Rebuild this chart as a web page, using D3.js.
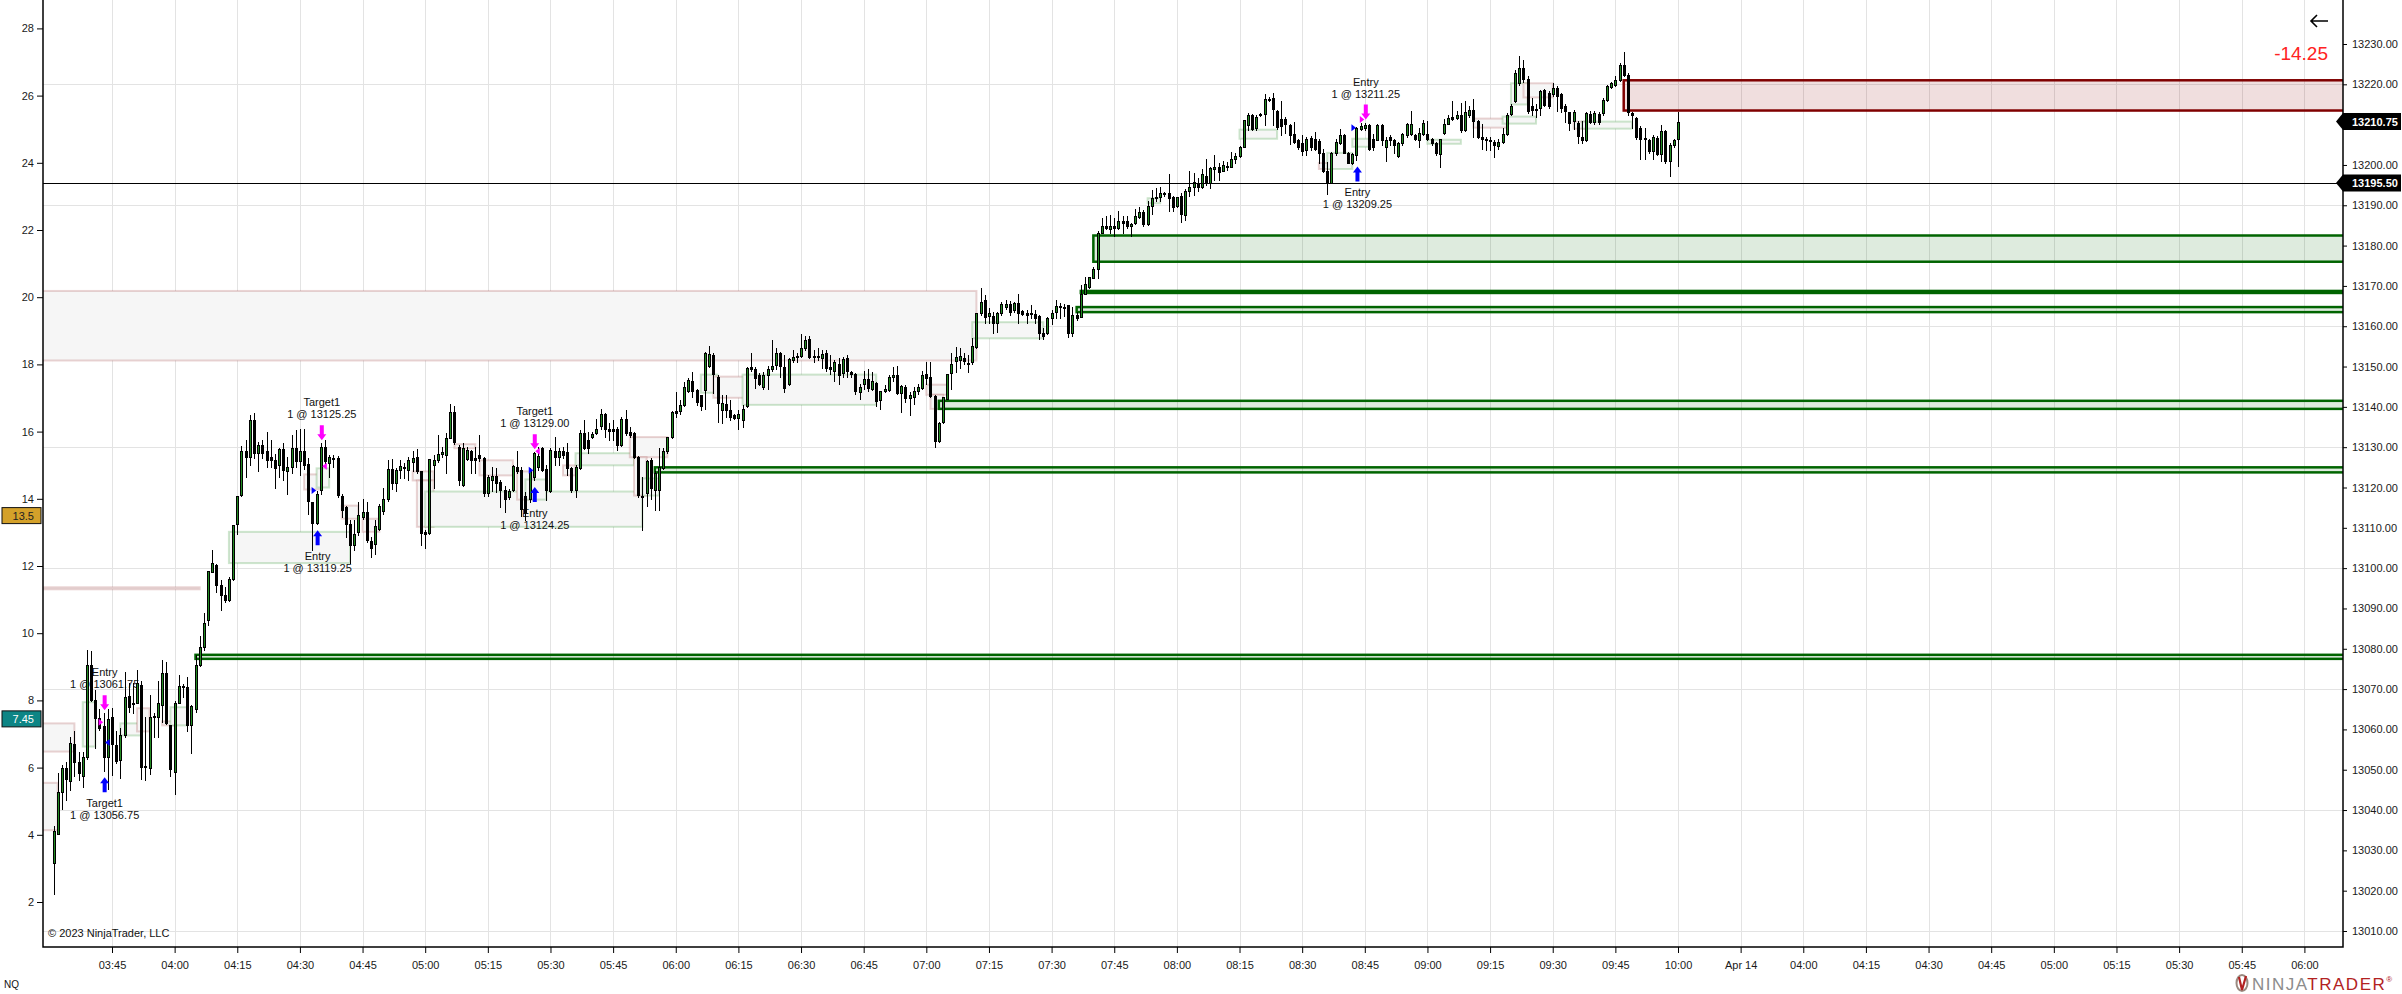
<!DOCTYPE html>
<html lang="en">
<head>
<meta charset="UTF-8">
<title>NQ 1 Minute</title>
<script src="https://cdn.jsdelivr.net/npm/d3@7"></script>
<style>
    body { margin: 0; background: #fff; overflow: hidden; }
    svg text { font-family: Arial, "Liberation Sans", sans-serif; }
</style>
</head>
<body>
<svg id="chart"></svg>
<script>
// 1 minute bars, first bar 03:31, last bar 10:00
const open = [
13026.75,13034,13044.5,13050.5,13047.25,13056.5,13052,13048.5,13053.25,13076,
13067.25,13062.75,13060.75,13053,13063,13056.25,13052.25,13058.5,13068.25,13066.5,
13066.5,13071,13051,13050.25,13063.25,13063,13066,13074,13061,13049.5,
13066.5,13070.75,13070.5,13061,13065,13076,13080.5,13087,13099,13100.75,
13095.75,13093.25,13092,13097.25,13111,13118,13129,13127.5,13136.75,13128.5,
13130.5,13129,13127.5,13126.75,13125.5,13129.5,13124,13125,13129.75,13126.5,
13129,13125.75,13116.5,13111.25,13119.25,13130,13126,13127.25,13127.25,13118,
13115.25,13111,13105.75,13109,13112.75,13114,13106.75,13106,13109.75,13114.25,
13117,13124.5,13121,13124.25,13125,13124.25,13126.25,13127.5,13124,13109,
13108.75,13125.5,13126.75,13128.25,13128,13132.25,13138.75,13130,13120.5,13127,
13129,13127.25,13128,13127.25,13118.5,13121.75,13122.75,13121.25,13119.5,13117.75,
13119.25,13125,13124.25,13118,13117,13122.5,13125,13129.75,13124.5,13119,
13129,13127.5,13129,13128.75,13124.75,13119.25,13124.75,13133.5,13131.75,13132.5,
13133.5,13135.25,13138.25,13134.5,13134.5,13134.5,13130.5,13137,13133.75,13133.5,
13127.5,13118,13118.5,13126.75,13119.25,13119.25,13124.75,13129,13132.5,13139,
13139,13140.5,13144,13146.5,13144.25,13143,13144,13150,13152.75,13147.5,
13139.25,13140.75,13139.25,13138,13137.25,13136.75,13140.25,13150,13149.5,13148,
13145,13148,13149.5,13150.25,13153.25,13150,13145.5,13151.5,13152.25,13152.5,
13154.5,13156.75,13152.5,13152.5,13152,13153.25,13150,13149,13150.75,13148.25,
13152,13148.75,13148.25,13143.75,13145.75,13147,13144.5,13146,13141.75,13144,
13144.25,13147.5,13148,13143.5,13145,13142.25,13142.5,13144,13144.75,13148.25,
13147.5,13142.75,13131.5,13136.25,13142,13148.5,13151.25,13151.5,13152,13151,
13151,13154.75,13163.25,13166.5,13162.5,13162.5,13160.75,13163.25,13164.75,13165.5,
13164,13165.75,13163.75,13163.25,13163.25,13163,13162.5,13158.25,13158.25,13162,
13163.5,13164.75,13164.75,13165.25,13158.25,13162.75,13162.25,13168,13169.75,13172,
13174,13183,13184.75,13184,13184.75,13184.25,13186,13186,13184.75,13185.5,
13187,13188.25,13185.25,13189.75,13192,13192,13193,13193,13192,13189.75,
13192.25,13187.5,13193.5,13194.5,13195.5,13194.5,13197.25,13195.5,13199,13199.5,
13198.5,13199.5,13199.5,13201.5,13202.25,13204.5,13210,13212.5,13209.25,13212.75,
13212.5,13216.25,13216.5,13213.5,13211.5,13211.5,13210,13207.75,13206.25,13205.5,
13203.75,13206.75,13206.5,13206,13203,13198.5,13195.5,13203,13205.5,13207.5,
13203,13200.5,13202.5,13209,13209.25,13210,13206.5,13206.25,13210,13204.5,
13207,13206.25,13202.25,13205.5,13207.5,13207.75,13207.5,13206.25,13207.75,13207.75,
13206.5,13205.5,13202.75,13208,13210.25,13212,13211.75,13212.5,13208.75,13212.5,
13213.75,13211,13207,13206.5,13206.25,13205.75,13204.75,13205.75,13207.75,13212.5,
13215.75,13220.25,13224,13221.25,13214.5,13214,13214,13218.5,13217.75,13217.5,
13219,13217.5,13214.5,13213.25,13211,13210.5,13207,13206.25,13212.75,13210.75,
13212.75,13212.75,13216,13219.25,13219.75,13221,13224.75,13222.25,13213,13211.75,
13209.25,13206.75,13206.25,13203.5,13206.75,13202.75,13208.5,13201,13205,13206.5
];
const high = [
13036,13049.25,13051.25,13052,13058,13059.5,13054.5,13054.5,13079.75,13079.5,
13069.75,13065,13064,13065,13065.25,13059.5,13060.25,13074.25,13071.5,13071.5,
13074.75,13072,13063,13068.5,13064,13072,13077.25,13076.75,13061,13067,
13073.5,13071.25,13073,13066,13078.5,13083.25,13088.75,13099.25,13104.5,13101,
13097,13095.25,13097.75,13110.75,13118,13130.25,13131.75,13138,13138.5,13131.25,
13131.75,13133.75,13131.75,13128.25,13129.75,13131,13127.5,13133,13134.25,13134.5,
13134.5,13127.25,13116.5,13119.25,13131,13131.75,13128,13128,13127.75,13118.5,
13115.5,13112,13112,13116.5,13117.25,13116.5,13107.75,13112,13116,13120,
13126.75,13127,13124.75,13126.75,13126,13127.5,13129,13129.5,13124,13109.5,
13127,13128,13133,13130,13133.5,13140.75,13140.25,13130.5,13131,13130,
13129.25,13130,13133,13127.5,13123,13125,13124.75,13121.75,13120.25,13119.75,
13125.5,13129,13125,13119,13124.75,13128.75,13130,13130,13125.5,13129.75,
13132.5,13129.75,13130,13131,13125,13125.5,13134.25,13136.75,13133.75,13133.75,
13137,13139.5,13138.5,13136,13136.75,13135,13137.5,13139.25,13135,13133.75,
13127.75,13122.5,13126.75,13127.25,13124,13129.75,13129.75,13132.5,13139,13143.75,
13141.75,13146.25,13147.25,13148.75,13144.5,13143,13153.5,13155,13153.25,13148,
13143,13143,13141.75,13138.25,13139.25,13140.5,13150,13153.25,13150,13148.5,
13148.75,13150.25,13156.5,13154.5,13153.5,13152.75,13152,13154,13153.25,13158,
13157.5,13157.5,13154,13154.5,13154,13154,13152.75,13151.5,13152,13152.25,
13152.75,13149,13148.5,13145.75,13149,13149.5,13148.75,13146.25,13144,13145.5,
13148,13150,13150.25,13145.5,13145.5,13143.75,13145,13145.75,13149,13151.25,
13151.25,13143,13136.25,13142.5,13148.25,13153.25,13154.75,13154.5,13153.25,13152.75,
13157,13163.25,13169.5,13167.75,13164.5,13163.5,13163.5,13166,13166.5,13166.25,
13166,13168,13164,13164,13165.25,13164,13162.75,13159.5,13162.25,13164,
13166.5,13165.75,13165.5,13165.25,13164.75,13163.5,13170.25,13172.25,13172.25,13174.75,
13183.5,13186.75,13187.25,13187.5,13186.75,13188.5,13187.25,13187.25,13185.5,13189,
13189.5,13188.75,13191,13193.75,13194.25,13194.5,13193.25,13197.75,13192.25,13192,
13193,13194,13198.5,13198,13196.75,13199,13201.5,13199.5,13202.5,13200.5,
13201,13200.75,13203.25,13203,13204.75,13211.25,13213,13212.75,13212.5,13213,
13217.5,13216.75,13217.75,13213.75,13215.75,13212,13210.25,13210.75,13206.5,13207.5,
13207,13207.25,13208.25,13206.5,13204,13200.75,13203.25,13206.5,13209,13207.75,
13203.25,13203,13209.5,13210.5,13210.5,13210.25,13207.75,13210.25,13210.25,13207,
13207.5,13206.5,13205.75,13208,13210.5,13213.5,13207.75,13209.25,13211.25,13211,
13206.75,13205.75,13206.5,13211.5,13212.5,13215.75,13213.5,13215.25,13215.75,13214.5,
13216.25,13211.25,13210.25,13207,13207,13206.25,13206.5,13209.25,13213,13215,
13223.5,13227,13226,13222,13216.5,13215,13218.5,13218.75,13218.25,13220.25,
13219.5,13217.75,13215,13213.25,13213.75,13211,13211,13213.25,13213.5,13213.5,
13213.25,13216.5,13219.75,13220.5,13222,13225.25,13228,13222.75,13213.25,13212,
13209.75,13209.25,13206.5,13207.5,13207.25,13210,13208.75,13205.5,13206.5,13213.25
];
const low = [
13019.25,13034,13040.25,13042.5,13045,13048.5,13047.5,13045.75,13052.75,13067,
13055.5,13059.75,13049.75,13045.25,13048.75,13051.75,13048,13058,13064.25,13064,
13066.5,13047.75,13047.5,13049,13058,13058,13061.75,13061.25,13048.5,13044,
13066.5,13068,13059.5,13054.25,13064.25,13075.75,13079.75,13086,13099,13094,
13089.5,13091.5,13091.75,13097,13108.5,13118,13122.5,13125.5,13127.25,13124,
13127.25,13125,13125,13120,13122.5,13121.75,13118.5,13123.5,13125,13123,
13124.5,13113.5,13104.5,13111,13118.5,13126,13122.5,13125,13117.75,13112.75,
13107.75,13101.25,13104.5,13108.25,13112.25,13106.5,13102.75,13103.5,13109.5,13113.5,
13116.75,13119.75,13119.25,13122.25,13122.25,13121.75,13124,13123.5,13105.75,13105,
13108.5,13120,13126.25,13127.5,13123.5,13132.25,13130.75,13120.5,13120.25,13126.75,
13123.5,13123.5,13126.5,13118,13118,13119.25,13119,13115.25,13114,13117.25,
13119.25,13123.5,13113,13112,13116.5,13121.75,13124.25,13124,13117,13119,
13125.5,13125.5,13127.25,13123,13119,13117.75,13124.5,13129.5,13128.5,13132.25,
13133.25,13134.5,13132.5,13131.75,13131.75,13129.25,13130.25,13133,13132.5,13127.25,
13117.75,13109.5,13115.5,13117.25,13114.5,13114.5,13124.5,13128.5,13132.25,13137.5,
13138.25,13140.25,13143.75,13142.5,13140.5,13139.25,13139.5,13150,13143.5,13136.25,
13136,13137.5,13136.75,13137,13134.5,13135,13140,13149,13144.75,13145.5,
13144.5,13144.5,13149,13149.5,13147.5,13143.75,13145.5,13151.25,13151.25,13152.25,
13154,13152,13151.25,13151.5,13149.75,13149,13148.25,13146.5,13145.75,13147.5,
13147.5,13147.5,13143.25,13142,13144.5,13144,13144.25,13140.25,13139.5,13143.75,
13144,13146.5,13143.25,13138.75,13141.25,13138,13140.75,13143.25,13144.5,13145.75,
13142.5,13130,13131.25,13136,13142,13144.5,13148.75,13149.75,13150.75,13148.75,
13150.75,13154.5,13162.75,13160.75,13160.75,13158.25,13158.5,13162.75,13164.25,13162.75,
13163.5,13160.75,13162.75,13160.75,13162,13160.75,13156.75,13156.75,13158,13160.5,
13162,13162,13162.5,13157.25,13157.5,13161.5,13162.25,13168,13169.5,13172,
13172,13183,13184,13183,13182.5,13184,13183,13184.25,13182.5,13185.25,
13186.75,13184.75,13185,13187.75,13191,13191,13192.25,13188.5,13188.5,13189.5,
13185.75,13186.25,13192.25,13192.5,13193.5,13194.25,13195,13194.25,13196.25,13196.25,
13198.5,13198.75,13199.5,13200.5,13202,13204.5,13208.75,13208.75,13208.75,13212.25,
13210,13215.75,13210,13209,13207.5,13208,13205.25,13205.5,13204,13202.5,
13202.5,13203.75,13203.75,13200.5,13198.25,13192.75,13195.5,13202.5,13205.25,13203,
13200.5,13200.25,13201.25,13208.75,13208.75,13203.75,13203.75,13206.25,13205,13201,
13205,13203,13202,13205,13207,13207.5,13206.25,13204.5,13207.5,13206.25,
13205,13202.5,13199.5,13207.75,13210.25,13211.25,13211.5,13208.25,13208.5,13212,
13207,13206.75,13204,13203.75,13203.75,13202,13204,13205.5,13207.5,13212.5,
13215.5,13219.75,13220.5,13213,13212.5,13212,13212.5,13214.5,13214.25,13217,
13213.5,13213.25,13210.75,13208.75,13209,13205.5,13205.5,13206,13210.5,13210.25,
13210.25,13212.5,13215.75,13219,13219.5,13220.75,13222,13212.5,13209.25,13206.5,
13201.5,13201.5,13203,13201.5,13202.5,13201,13200.5,13197.25,13204.5,13199.75
];
const close = [
13034.75,13044.5,13050.5,13047.75,13056.75,13052,13049.25,13053.25,13076,13067.25,
13062.75,13060.25,13053,13062.5,13056.25,13052.25,13058.5,13068,13065.5,13066.25,
13071.5,13050.75,13050.75,13063,13063,13066.5,13074,13061.5,13050,13066.5,
13070.75,13070.5,13061,13065.75,13076,13080.5,13086.5,13099.25,13101.25,13095.75,
13093.25,13092,13097.25,13110.75,13118,13129,13127.5,13136.75,13128.5,13130.5,
13128.5,13126.75,13126.75,13124.75,13129.5,13124.25,13125,13129.75,13126.5,13129,
13125.5,13116.5,13111.25,13118.5,13130,13126.5,13127.5,13127,13118,13114.5,
13111,13105.75,13108.5,13113.25,13114,13107,13105,13110.5,13115.5,13117.25,
13124.5,13121,13124.25,13125.25,13124.75,13126.75,13127.25,13124,13108.5,13108.5,
13127,13126.75,13128.25,13128.75,13132.25,13138.75,13131.25,13121.75,13129.75,13129.25,
13126.75,13126.75,13127.25,13118.5,13122.5,13122.75,13121,13119.25,13117.25,13119.25,
13125.25,13124,13114.5,13114,13124.25,13128.5,13127.75,13124.25,13119.25,13129.25,
13127.5,13129,13128,13124.75,13119.25,13125,13133.5,13129.75,13129.75,13133.25,
13134.5,13138.25,13134.5,13134,13134,13130.5,13137,13133.5,13133,13127.5,
13118,13117.75,13126.5,13119.75,13123.5,13125,13129,13132.5,13138.75,13138.5,
13140.5,13145,13146.75,13144,13141.25,13140.25,13153.25,13153,13148,13141,
13141,13139.25,13137.5,13137.25,13138.25,13139.5,13149.75,13149.5,13147.25,13145.75,
13148,13149.5,13150.25,13153.25,13150,13144.75,13151.75,13152.25,13152.5,13154.5,
13156.5,13152.25,13152.25,13152.25,13153,13149.5,13149.5,13151.25,13148,13151.75,
13148.75,13148.25,13144,13145,13147,13144.75,13146.5,13141.5,13144,13144.5,
13147.5,13148,13143.5,13145.25,13142.25,13143,13144,13145,13148,13147.25,
13142.75,13131.5,13136,13142.5,13148.25,13150.75,13152.25,13152.5,13151.25,13150.75,
13155,13163.25,13166,13162.25,13163.25,13160.75,13163.25,13165.5,13165.5,13163.5,
13165.75,13163.25,13163,13162.75,13163,13162,13158.25,13157.5,13162,13163.25,
13165,13165,13164.5,13158.25,13162.75,13162,13168,13170.5,13172.25,13174.25,
13183,13184.75,13184.25,13184.75,13184.25,13186,13185.5,13184.75,13185.25,13187.25,
13188.25,13185.25,13189.75,13191.75,13191.75,13193,13192.75,13191.75,13189.5,13192,
13187.75,13193.5,13194.5,13195.75,13194.5,13197.75,13195.5,13199.25,13199.5,13198.25,
13200,13199.75,13201.5,13202.25,13204.5,13211.25,13212.5,13209,13212,13212.5,
13216.25,13216,13213.75,13209.5,13209.75,13210.25,13207.5,13205.75,13204.5,13203.5,
13206.5,13204.5,13204,13203,13198.5,13195.75,13203,13205.75,13207.5,13203,
13200.5,13202.75,13209.25,13209.75,13210,13204,13204.5,13210,13206.25,13206.25,
13206.25,13205,13205.5,13207.75,13210.25,13210.25,13206.5,13208,13210.5,13206.5,
13205.5,13203,13206.5,13210.25,13211.75,13211.5,13212.5,13208.75,13213.25,13213.75,
13211,13207,13206.5,13206.25,13206,13205,13205.75,13207.75,13212.5,13214.5,
13222.75,13224,13221.25,13213.25,13213.5,13213.75,13218.25,13214.75,13214.5,13219,
13217,13214,13213.25,13210.5,13213.25,13207.25,13206.25,13213,13210.75,13213,
13210.75,13216,13219.5,13220.25,13221,13224.75,13222.25,13213,13212.5,13207,
13206.5,13206.5,13203.5,13207,13202.75,13208.5,13201,13205,13206.25,13210.75
];

// time axis labels, one every 15 bars starting at bar 14 (03:45)
const timeTicks = ["03:45","04:00","04:15","04:30","04:45","05:00","05:15","05:30","05:45",
    "06:00","06:15","06:30","06:45","07:00","07:15","07:30","07:45","08:00","08:15","08:30",
    "08:45","09:00","09:15","09:30","09:45","10:00","Apr 14","04:00","04:15","04:30","04:45",
    "05:00","05:15","05:30","05:45","06:00"];
const leftTicks = [2, 4, 6, 8, 10, 12, 14, 16, 18, 20, 22, 24, 26, 28];

// zones extending to the right edge: [first bar, top price, bottom price]
const demandZones = [
    [249, 13182.5, 13176],
    [246, 13168.75, 13168.25],
    [245, 13164.75, 13163.5],
    [212, 13141.5, 13139.5],
    [144, 13125, 13123.75],
    [34, 13078.5, 13077.5]
];
const supplyZones = [
    [376, 13221, 13213.5]
];
// small finished zones: [from bar, to bar, top, bottom, kind]
const oldZones = [
    [-4, 221, 13168.75, 13151.5, "r"],
    [-4, 35, 13095.25, 13094.75, "r"],
    [-4, 5, 13061.5, 13054.5, "r"],
    [-4, 1, 13046.75, 13035, "r"],
    [7, 10, 13066.75, 13055.75, "g"],
    [16, 21, 13061.5, 13058.5, "g"],
    [20, 23, 13065.25, 13059.5, "r"],
    [26, 29, 13062, 13061, "r"],
    [28, 32, 13065.5, 13061, "g"],
    [42, 71, 13109, 13101.25, "g"],
    [60, 64, 13123.25, 13119.5, "r"],
    [63, 66, 13124.75, 13120, "g"],
    [69, 73, 13115.5, 13112.25, "r"],
    [74, 78, 13112.25, 13109, "r"],
    [86, 91, 13124, 13121.75, "r"],
    [87, 91, 13121.75, 13110.25, "r"],
    [89, 141, 13119, 13110.25, "g"],
    [96, 101, 13130.75, 13129.75, "r"],
    [102, 110, 13126.75, 13123, "r"],
    [111, 115, 13124, 13117, "r"],
    [113, 118, 13122, 13117, "g"],
    [122, 125, 13125.5, 13123, "r"],
    [125, 139, 13128.5, 13125.5, "g"],
    [138, 147, 13132.5, 13127.5, "r"],
    [139, 142, 13127.5, 13118, "r"],
    [141, 145, 13122.25, 13118, "g"],
    [155, 159, 13148, 13143.5, "g"],
    [158, 166, 13147.5, 13142.25, "r"],
    [165, 197, 13148, 13140.5, "g"],
    [209, 214, 13145.5, 13143, "r"],
    [210, 213, 13143, 13139.5, "r"],
    [220, 237, 13161, 13157, "g"],
    [262, 265, 13191.75, 13190.5, "g"],
    [284, 293, 13208.75, 13206.5, "g"],
    [303, 306, 13200.5, 13199, "r"],
    [305, 311, 13203, 13199, "g"],
    [311, 315, 13206.5, 13204.5, "g"],
    [329, 337, 13206.25, 13205.25, "g"],
    [340, 348, 13211.5, 13209.25, "r"],
    [347, 355, 13212, 13210.25, "g"],
    [349, 353, 13220.25, 13215, "g"],
    [352, 359, 13220.25, 13216.75, "r"],
    [364, 367, 13210.75, 13209, "r"],
    [366, 378, 13210.75, 13209, "g"]
];
// executions: [bar, price, side, name, role]
const executions = [
    [12, 13061.75, "sell", "Entry", "entry"],
    [12, 13056.75, "buy", "Target1", "exit"],
    [63, 13119.25, "buy", "Entry", "entry"],
    [64, 13125.25, "sell", "Target1", "exit"],
    [115, 13124.25, "buy", "Entry", "entry"],
    [115, 13129.00, "sell", "Target1", "exit"],
    [312, 13209.25, "buy", "Entry", "entry"],
    [314, 13211.25, "sell", "Entry", "entry"]
];
const lastPrice = 13210.75;
const lineLevel = 13195.50;
const pnlText = "-14.25";
const leftFlags = [[13.5, "13.5", "#d4a12a", "#222"], [7.45, "7.45", "#0d8585", "#fff"]];

const width = 2402, height = 994;
const L = 43, R = 2343, B = 947;

const svg = d3.select("#chart").attr("width", width).attr("height", height);
svg.append("rect").attr("width", width).attr("height", height).attr("fill", "#fff");

const x = d3.scaleLinear().domain([14, 389]).range([112, 1678]);
const y = d3.scaleLinear().domain([13010, 13230]).range([931, 44]);
const yLeft = d3.scaleLinear().domain([2, 28]).range([902, 28.4]);
const px = v => Math.round(v) + 0.5;

svg.append("clipPath").attr("id", "plot")
    .append("rect").attr("x", L).attr("y", 0).attr("width", R - L).attr("height", B);

// grid
const tickBars = timeTicks.map((d, i) => 14 + i * 15);
const grid = svg.append("g").attr("stroke", "#e3e3e3").attr("stroke-width", 1).attr("shape-rendering", "crispEdges");
grid.selectAll(".v").data(tickBars).enter().append("line")
    .attr("x1", d => px(x(d))).attr("x2", d => px(x(d))).attr("y1", 0).attr("y2", B);
grid.selectAll(".h").data(d3.range(13010, 13231, 30)).enter().append("line")
    .attr("x1", L).attr("x2", R).attr("y1", d => px(y(d))).attr("y2", d => px(y(d)));

const plot = svg.append("g").attr("clip-path", "url(#plot)");

// old zones
plot.append("g").selectAll("rect").data(oldZones).enter().append("rect")
    .attr("x", d => x(d[0]))
    .attr("y", d => y(d[2]))
    .attr("width", d => x(d[1]) - x(d[0]))
    .attr("height", d => y(d[3]) - y(d[2]))
    .attr("fill", "#f6f6f6")
    .attr("stroke", d => d[4] === "g" ? "rgba(34,139,34,0.22)" : "rgba(150,40,40,0.2)")
    .attr("stroke-width", 2);

// live zones
plot.append("g").selectAll("rect").data(demandZones).enter().append("rect")
    .attr("x", d => x(d[0]))
    .attr("y", d => y(d[1]))
    .attr("width", d => R + 10 - x(d[0]))
    .attr("height", d => Math.max(y(d[2]) - y(d[1]), 0.5))
    .attr("fill", "rgba(0,100,0,0.13)")
    .attr("stroke", "#006400")
    .attr("stroke-width", 2.5);
plot.append("g").selectAll("rect").data(supplyZones).enter().append("rect")
    .attr("x", d => x(d[0]))
    .attr("y", d => y(d[1]))
    .attr("width", d => R + 10 - x(d[0]))
    .attr("height", d => y(d[2]) - y(d[1]))
    .attr("fill", "rgba(139,0,0,0.13)")
    .attr("stroke", "#800000")
    .attr("stroke-width", 2.5);

// execution labels sit under the bars
const labels = svg.append("g");
const mark = svg.append("g");

// candles
const bars = d3.range(open.length);
const candles = svg.append("g").attr("clip-path", "url(#plot)").attr("shape-rendering", "crispEdges");
candles.selectAll("line").data(bars).enter().append("line")
    .attr("x1", i => px(x(i))).attr("x2", i => px(x(i)))
    .attr("y1", i => Math.round(y(high[i]))).attr("y2", i => Math.round(y(low[i])) + 1)
    .attr("stroke", "#000").attr("stroke-width", 1);
candles.selectAll("rect").data(bars).enter().append("rect")
    .attr("x", i => Math.round(x(i)) - 0.5)
    .attr("width", 2)
    .attr("y", i => px(y(Math.max(open[i], close[i]))))
    .attr("height", i => Math.max(Math.round(Math.abs(y(open[i]) - y(close[i]))), 1))
    .attr("fill", i => close[i] >= open[i] ? "#228b22" : "#000")
    .attr("stroke", "#000")
    .attr("stroke-width", 1);

// horizontal line
svg.append("line")
    .attr("x1", L).attr("x2", R)
    .attr("y1", px(y(lineLevel))).attr("y2", px(y(lineLevel)))
    .attr("stroke", "#000").attr("stroke-width", 1).attr("shape-rendering", "crispEdges");

// executions
executions.forEach(([bar, price, side, name, role]) => {
    const cx = x(bar);
    const color = side === "buy" ? "#0000ff" : "#ff00ff";
    const py = y(price);
    // small triangle at the fill price
    if (role === "entry") {
        mark.append("path").attr("d", `M${cx - 5},${py - 3.5}L${cx - 0.5},${py}L${cx - 5},${py + 3.5}Z`).attr("fill", color);
    } else {
        mark.append("path").attr("d", `M${cx + 6},${py - 3.5}L${cx + 1.5},${py}L${cx + 6},${py + 3.5}Z`).attr("fill", color);
    }
    const ax = cx + 1;
    if (side === "sell") {
        const tip = y(high[bar]) - 3;
        mark.append("path")
            .attr("d", `M${ax - 2},${tip - 15}H${ax + 2}V${tip - 6}H${ax + 4.5}L${ax},${tip}L${ax - 4.5},${tip - 6}H${ax - 2}Z`)
            .attr("fill", color);
        labels.append("text").attr("x", ax).attr("y", tip - 22).attr("text-anchor", "middle")
            .attr("font-size", 11).attr("fill", "#111").text(`1 @ ${price.toFixed(2)}`);
        labels.append("text").attr("x", ax).attr("y", tip - 34).attr("text-anchor", "middle")
            .attr("font-size", 11).attr("fill", "#111").text(name);
    } else {
        const tip = y(low[bar]) + 6.5;
        mark.append("path")
            .attr("d", `M${ax - 2},${tip + 15}H${ax + 2}V${tip + 6}H${ax + 4.5}L${ax},${tip}L${ax - 4.5},${tip + 6}H${ax - 2}Z`)
            .attr("fill", color);
        labels.append("text").attr("x", ax).attr("y", tip + 30).attr("text-anchor", "middle")
            .attr("font-size", 11).attr("fill", "#111").text(name);
        labels.append("text").attr("x", ax).attr("y", tip + 42).attr("text-anchor", "middle")
            .attr("font-size", 11).attr("fill", "#111").text(`1 @ ${price.toFixed(2)}`);
    }
});
mark.raise();

// axes
const axisRight = d3.axisRight(y)
    .tickValues(d3.range(13010, 13231, 10))
    .tickFormat(d3.format(".2f"))
    .tickSize(4).tickPadding(5).tickSizeOuter(0);
const gR = svg.append("g").attr("transform", `translate(${R},0)`).call(axisRight);

const axisLeft = d3.axisLeft(yLeft).tickValues(leftTicks).tickSize(6).tickPadding(3).tickSizeOuter(0);
const gL = svg.append("g").attr("transform", `translate(${L},0)`).call(axisLeft);

const axisBottom = d3.axisBottom(x).tickValues(tickBars)
    .tickFormat((d, i) => timeTicks[i]).tickSize(6).tickPadding(8).tickSizeOuter(0);
const gB = svg.append("g").attr("transform", `translate(0,${B})`).call(axisBottom);

[gR, gL, gB].forEach(g => {
    g.select(".domain").remove();
    g.selectAll("text").attr("font-size", 11).attr("font-family", "Arial, 'Liberation Sans', sans-serif").attr("fill", "#1a1a1a");
    g.selectAll("line").attr("stroke", "#000");
});

svg.append("path")
    .attr("d", `M${L},0V${B}H${R}V0`)
    .attr("fill", "none").attr("stroke", "#000").attr("stroke-width", 1.5);

// price flags on the right axis
[lineLevel, lastPrice].forEach(p => {
    const py = y(p);
    svg.append("path")
        .attr("d", `M${R - 7},${py}L${R},${py - 8.5}H${width - 1}V${py + 8.5}H${R}Z`)
        .attr("fill", "#000");
    svg.append("text").attr("x", R + 9).attr("y", py + 4).attr("font-size", 11)
        .attr("font-weight", "bold").attr("fill", "#fff").text(p.toFixed(2));
});

// flags on the left axis
leftFlags.forEach(([v, t, bg, fg]) => {
    const py = yLeft(v);
    svg.append("rect").attr("x", 2).attr("y", py - 8).attr("width", 39).attr("height", 16)
        .attr("fill", bg).attr("stroke", "#111").attr("stroke-width", 1);
    svg.append("text").attr("x", 34).attr("y", py + 4).attr("text-anchor", "end")
        .attr("font-size", 11).attr("fill", fg).text(t);
});

// top right: arrow and pnl
svg.append("path").attr("d", "M2328,21H2311M2317,15L2311,21L2317,27")
    .attr("fill", "none").attr("stroke", "#000").attr("stroke-width", 1.6);
svg.append("text").attr("x", 2328).attr("y", 60).attr("text-anchor", "end")
    .attr("font-size", 19).attr("fill", "#ff2222").text(pnlText);

svg.append("text").attr("x", 48).attr("y", 937).attr("font-size", 11).attr("fill", "#111")
    .text("\u00a9 2023 NinjaTrader, LLC");
svg.append("text").attr("x", 4).attr("y", 988).attr("font-size", 10).attr("fill", "#111").text("NQ");

// logo
const logo = svg.append("g").attr("transform", "translate(2236,990)");
logo.append("ellipse").attr("cx", 6).attr("cy", -7).attr("rx", 5.5).attr("ry", 8)
    .attr("fill", "none").attr("stroke", "#9a8a80").attr("stroke-width", 2);
logo.append("path").attr("d", "M3,-13L6,0L10,-14").attr("fill", "none").attr("stroke", "#b22222").attr("stroke-width", 2.2);
const lt = logo.append("text").attr("x", 16).attr("y", 0).attr("font-size", 17).attr("letter-spacing", 1.5);
lt.append("tspan").attr("fill", "#8c8c8c").text("NINJA");
lt.append("tspan").attr("fill", "#b22222").text("TRADER");
lt.append("tspan").attr("fill", "#b22222").attr("font-size", 8).attr("dy", -8).text("\u00ae");
</script>
</body>
</html>
